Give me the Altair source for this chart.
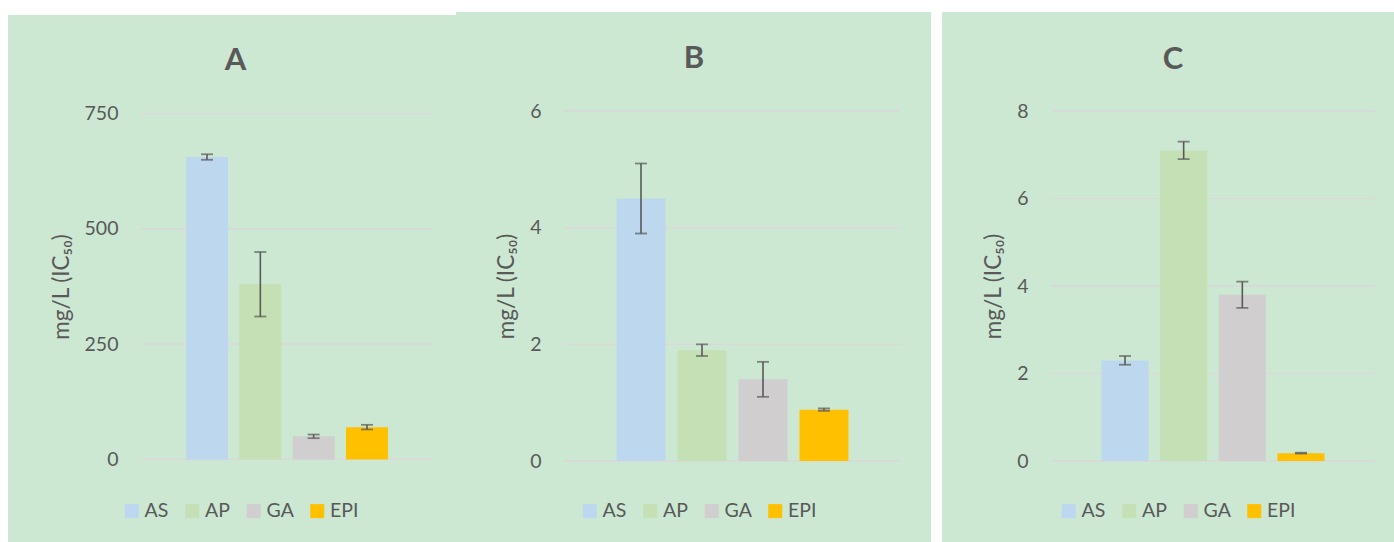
import altair as alt
import pandas as pd

# Series shared by the three panels
series = ["AS", "AP", "GA", "EPI"]
palette = ["#BDD7EE", "#C5E0B4", "#D0CECE", "#FFC000"]

# Panel A
a_mean = [656, 380, 50, 70]
a_err = [6, 70, 4, 5]
a_ticks = [0, 250, 500, 750]

# Panel B
b_mean = [4.5, 1.9, 1.4, 0.88]
b_err = [0.6, 0.1, 0.3, 0.02]
b_ticks = [0, 2, 4, 6]

# Panel C
c_mean = [2.3, 7.1, 3.8, 0.18]
c_err = [0.1, 0.2, 0.3, 0.01]
c_ticks = [0, 2, 4, 6, 8]

PANEL_BG = "#CCE8D2"
GRID = "#D9D9D9"
INK = "#595959"
FONT = "Lato"
Y_TITLE = "mg/L (IC₅₀)"
PLOT_H = 350


def panel(letter, means, errs, ticks, width, y_range, pad_in, pad_out,
          box, title_pos, legend_x):
    df = pd.DataFrame({"series": series, "mean": means, "err": errs})
    df["lo"] = df["mean"] - df["err"]
    df["hi"] = df["mean"] + df["err"]

    x = alt.X("series:N", sort=series, axis=None,
              scale=alt.Scale(paddingInner=pad_in, paddingOuter=pad_out))
    y_scale = alt.Scale(domain=[ticks[0], ticks[-1]], nice=False, zero=True,
                        range=y_range)

    # panel background card
    x1, x2, y1, y2 = box
    bg = alt.Chart(pd.DataFrame({"k": [0]})).mark_rect(
        fill=PANEL_BG, strokeWidth=0
    ).encode(x=alt.value(x1), x2=alt.value(x2), y=alt.value(y1), y2=alt.value(y2))

    # horizontal gridlines sit under the bars
    grid = alt.Chart(pd.DataFrame({"v": ticks})).mark_rule(
        color=GRID, strokeWidth=1.6
    ).encode(y=alt.Y("v:Q", scale=y_scale, title=Y_TITLE))

    title = alt.Chart(pd.DataFrame({"t": [letter]})).mark_text(
        font=FONT, fontSize=31, fontWeight="bold", color=INK,
        align="center", baseline="alphabetic"
    ).encode(text="t:N", x=alt.value(title_pos[0]), y=alt.value(title_pos[1]))

    bars = alt.Chart(df).mark_bar(strokeWidth=0).encode(
        x=x,
        y=alt.Y("mean:Q", scale=y_scale, title=Y_TITLE,
                axis=alt.Axis(values=ticks, format="d", zindex=2)),
        color=alt.Color(
            "series:N", sort=series,
            scale=alt.Scale(domain=series, range=palette),
            legend=alt.Legend(
                title=None, orient="none", direction="horizontal",
                legendX=legend_x, legendY=390, symbolType="square",
                symbolSize=196, symbolStrokeWidth=0, labelFont=FONT,
                labelFontSize=19.5, labelColor=INK, labelOffset=3,
                columnPadding=13.5, columns=4,
            ),
        ),
    )

    whisker = alt.Chart(df).mark_rule(color=INK, strokeWidth=1.6).encode(
        x=x, y=alt.Y("lo:Q", title=Y_TITLE), y2="hi:Q"
    )
    cap_lo = alt.Chart(df).mark_tick(color=INK, size=12, thickness=1.8).encode(
        x=x, y=alt.Y("lo:Q", title=Y_TITLE)
    )
    cap_hi = alt.Chart(df).mark_tick(color=INK, size=12, thickness=1.8).encode(
        x=x, y=alt.Y("hi:Q", title=Y_TITLE)
    )

    return alt.layer(bg, grid, title, bars, whisker, cap_lo, cap_hi).properties(
        width=width, height=PLOT_H
    )


pa = panel("A", a_mean, a_err, a_ticks, 292, [348.4, 2.7], 0.2125, 0.844,
           (-133, 315, -96, 431), (94.5, -41), -19)
pb = panel("B", b_mean, b_err, b_ticks, 337, [PLOT_H, 0], 0.197, 0.861,
           (-108, 367, -99, 431), (130, -43), 16)
pc = panel("C", c_mean, c_err, c_ticks, 324, [PLOT_H, 0], 0.199, 0.861,
           (-109, 343, -99, 431), (122, -42.5), 8)

left = alt.hconcat(pa, pb, spacing=0).resolve_scale(
    x="independent", y="independent", color="independent"
).resolve_legend(color="independent")

chart = alt.hconcat(left, pc, spacing=11).resolve_scale(
    x="independent", y="independent", color="independent"
).resolve_legend(color="independent").properties(
    background="white",
    padding={"left": 8, "top": 12, "right": 0, "bottom": 0},
).configure_view(stroke=None).configure_axis(
    domain=False, ticks=False, grid=False,
    labelFont=FONT, labelFontSize=19.5, labelColor=INK, labelPadding=23,
    titleFont=FONT, titleFontSize=22.5, titleFontWeight="normal",
    titleColor=INK, titlePadding=11,
)

chart.save("out.html", embed_options={"renderer": "svg", "actions": False})
